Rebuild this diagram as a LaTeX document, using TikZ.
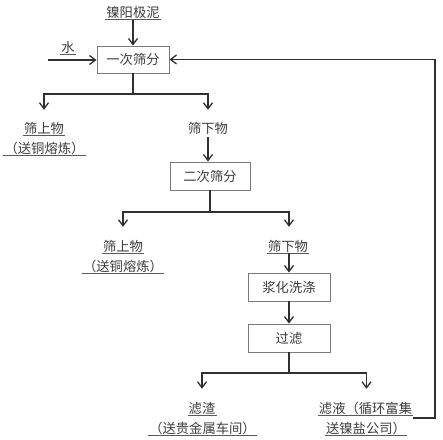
\documentclass[tikz,border=0pt]{standalone}
\usepackage{fontspec}
\newfontfamily\cjk{Noto Sans CJK SC}
\usetikzlibrary{arrows.meta,calc}
\definecolor{lnc}{HTML}{303030}
\definecolor{boxc}{HTML}{7A7A7A}
\definecolor{txc}{HTML}{3C3C3C}
\definecolor{ulc}{HTML}{5A5A5A}
\begin{document}
\begin{tikzpicture}[x=1pt,y=-1pt,
  lbl/.style={font={\cjk\fontsize{13.3}{16}\selectfont}, text=txc, inner xsep=1pt, inner ysep=0.5pt, text height=11.5pt, text depth=1.5pt},
  procbox/.style={draw=boxc, line width=0.9pt, font={\cjk\fontsize{13.3}{16}\selectfont}, text=txc, inner sep=0pt},
  conn/.style={draw=lnc, line width=1.3pt},
  arr/.style={conn, -{Straight Barb[length=6pt,width=9pt,line width=1.3pt]}},
  ulline/.style={draw=ulc, line width=0.8pt}
]
\useasboundingbox (0,0) rectangle (443,439);

% nodes
\node[lbl] (src) at (133,12) {镍阳极泥};
\node[lbl] (water) at (68,47) {水};
\node[procbox, minimum width=72pt, minimum height=27pt] (b1) at (133,59.5) {一次筛分};
\node[lbl] (s1) at (44,128) {筛上物};
\node[lbl] (s1b) at (44.5,148) {（送铜熔炼）};
\node[lbl] (d1) at (208,128) {筛下物};
\node[procbox, minimum width=80pt, minimum height=28pt] (b2) at (210,176) {二次筛分};
\node[lbl] (s2) at (123,246) {筛上物};
\node[lbl] (s2b) at (123,266) {（送铜熔炼）};
\node[lbl] (d2) at (288,246) {筛下物};
\node[procbox, minimum width=82pt, minimum height=28pt] (b3) at (289,287) {浆化洗涤};
\node[procbox, minimum width=82pt, minimum height=28pt] (b4) at (289,338) {过滤};
\node[lbl] (r1) at (202,408) {滤渣};
\node[lbl] (r1b) at (202.5,428) {（送贵金属车间）};
\node[lbl] (f1) at (365.5,408) {滤液（循环富集};
\node[lbl] (f1b) at (366,428) {送镍盐公司）};

% underlines
\foreach \n in {src,water,s1,s1b,s2,s2b,d2,r1,r1b,f1,f1b}
  \draw[ulline] (\n.south west) -- (\n.south east);

% junctions and free ends
\coordinate (win) at (48,60);
\coordinate (j1) at (133,94);
\coordinate (j2) at (210,212);
\coordinate (j3) at (289,373);
\coordinate (fb) at (413,418);
\coordinate (fbc) at (435,418);
\coordinate (d2top) at ([yshift=12pt]b3.north |- d2.north);
\coordinate (f1top) at ([xshift=1pt,yshift=12pt]f1.north);

% connectors
\draw[arr] ([yshift=-1pt]src.south) -- (b1.north);
\draw[arr] (win) -- (win -| b1.west);
\draw[conn] (b1.south) -- (j1);
\draw[arr] (j1) -| ([yshift=11pt]s1.north);
\draw[arr] (j1) -| ([yshift=11pt]d1.north);
\draw[arr] ([yshift=-2pt]d1.south) -- (d1.south |- b2.north);
\draw[conn] (b2.south) -- (j2);
\draw[arr] (j2) -| ([yshift=12pt]s2.north);
\draw[arr] (j2) -| (d2top);
\draw[arr] (b3.north |- d2.south) -- (b3.north);
\draw[arr] (b3.south) -- (b4.north);
\draw[conn] (b4.south) -- (j3);
\draw[arr] (j3) -| ([yshift=12pt]r1.north);
\draw[arr] (j3) -| (f1top);
\draw[arr] (fb) -- (fbc) |- (b1.east);
\end{tikzpicture}
\end{document}
